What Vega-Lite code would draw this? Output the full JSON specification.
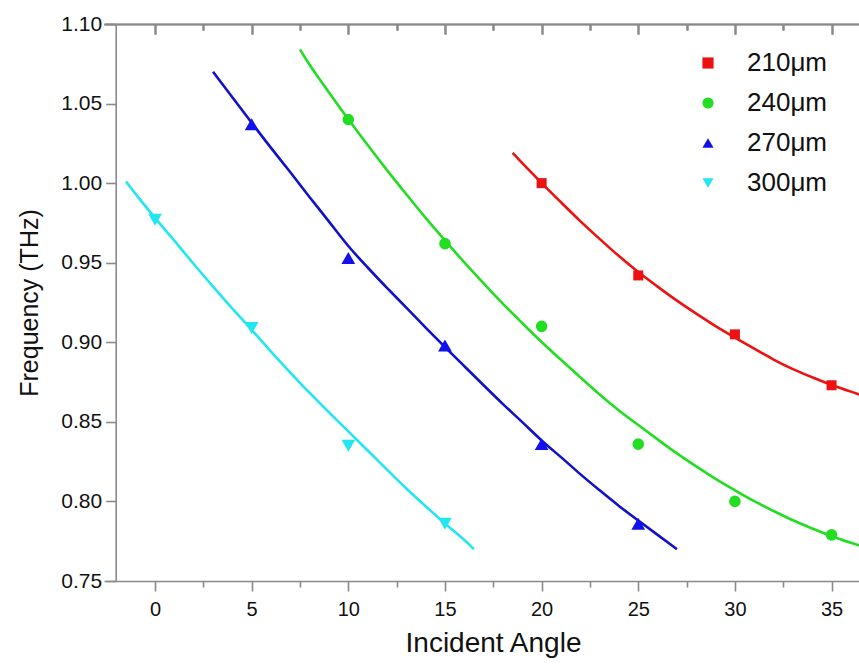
{
  "$schema": "https://vega.github.io/schema/vega-lite/v6.json",
  "autosize": {"type": "none"},
  "width": 755,
  "height": 557,
  "padding": {"left": 104, "top": 24, "right": 0, "bottom": 87},
  "background": "white",
  "config": {
    "view": {"stroke": null},
    "font": "Liberation Sans",
    "axis": {
      "grid": false,
      "domainColor": "#8a8a8a",
      "domainWidth": 1.6,
      "tickColor": "#8a8a8a",
      "tickWidth": 1.6,
      "labelFont": "Liberation Sans",
      "titleFont": "Liberation Sans",
      "labelColor": "#111111",
      "titleColor": "#111111",
      "labelFontSize": 20,
      "titleFontSize": 25,
      "titleFontWeight": "normal",
      "labelOverlap": false,
      "labelFlush": false
    }
  },
  "datasets": {
    "curves": [
      {"series": "210μm", "x": 18.5, "y": 1.019},
      {"series": "210μm", "x": 20, "y": 1.000},
      {"series": "210μm", "x": 21, "y": 0.988},
      {"series": "210μm", "x": 22, "y": 0.976},
      {"series": "210μm", "x": 23, "y": 0.965},
      {"series": "210μm", "x": 24, "y": 0.954},
      {"series": "210μm", "x": 25, "y": 0.944},
      {"series": "210μm", "x": 26, "y": 0.935},
      {"series": "210μm", "x": 27, "y": 0.926},
      {"series": "210μm", "x": 28, "y": 0.918},
      {"series": "210μm", "x": 29, "y": 0.910},
      {"series": "210μm", "x": 30, "y": 0.903},
      {"series": "210μm", "x": 31, "y": 0.896},
      {"series": "210μm", "x": 32, "y": 0.889},
      {"series": "210μm", "x": 33, "y": 0.883},
      {"series": "210μm", "x": 34, "y": 0.878},
      {"series": "210μm", "x": 35, "y": 0.873},
      {"series": "210μm", "x": 36, "y": 0.869},
      {"series": "210μm", "x": 37, "y": 0.865},
      {"series": "240μm", "x": 7.5, "y": 1.084},
      {"series": "240μm", "x": 8, "y": 1.074},
      {"series": "240μm", "x": 9, "y": 1.057},
      {"series": "240μm", "x": 10, "y": 1.040},
      {"series": "240μm", "x": 11, "y": 1.024},
      {"series": "240μm", "x": 12, "y": 1.008},
      {"series": "240μm", "x": 13, "y": 0.993},
      {"series": "240μm", "x": 14, "y": 0.978},
      {"series": "240μm", "x": 15, "y": 0.964},
      {"series": "240μm", "x": 16, "y": 0.950},
      {"series": "240μm", "x": 17, "y": 0.937},
      {"series": "240μm", "x": 18, "y": 0.924},
      {"series": "240μm", "x": 19, "y": 0.912},
      {"series": "240μm", "x": 20, "y": 0.900},
      {"series": "240μm", "x": 21, "y": 0.889},
      {"series": "240μm", "x": 22, "y": 0.878},
      {"series": "240μm", "x": 23, "y": 0.867},
      {"series": "240μm", "x": 24, "y": 0.857},
      {"series": "240μm", "x": 25, "y": 0.848},
      {"series": "240μm", "x": 26, "y": 0.839},
      {"series": "240μm", "x": 27, "y": 0.830},
      {"series": "240μm", "x": 28, "y": 0.822},
      {"series": "240μm", "x": 29, "y": 0.814},
      {"series": "240μm", "x": 30, "y": 0.807},
      {"series": "240μm", "x": 31, "y": 0.800},
      {"series": "240μm", "x": 32, "y": 0.794},
      {"series": "240μm", "x": 33, "y": 0.788},
      {"series": "240μm", "x": 34, "y": 0.783},
      {"series": "240μm", "x": 35, "y": 0.778},
      {"series": "240μm", "x": 36, "y": 0.774},
      {"series": "240μm", "x": 37, "y": 0.770},
      {"series": "270μm", "x": 3, "y": 1.070},
      {"series": "270μm", "x": 4, "y": 1.054},
      {"series": "270μm", "x": 5, "y": 1.038},
      {"series": "270μm", "x": 6, "y": 1.022},
      {"series": "270μm", "x": 7, "y": 1.007},
      {"series": "270μm", "x": 8, "y": 0.991},
      {"series": "270μm", "x": 9, "y": 0.976},
      {"series": "270μm", "x": 10, "y": 0.960},
      {"series": "270μm", "x": 11, "y": 0.947},
      {"series": "270μm", "x": 12, "y": 0.934},
      {"series": "270μm", "x": 13, "y": 0.922},
      {"series": "270μm", "x": 14, "y": 0.909},
      {"series": "270μm", "x": 15, "y": 0.897},
      {"series": "270μm", "x": 16, "y": 0.885},
      {"series": "270μm", "x": 17, "y": 0.873},
      {"series": "270μm", "x": 18, "y": 0.861},
      {"series": "270μm", "x": 19, "y": 0.850},
      {"series": "270μm", "x": 20, "y": 0.838},
      {"series": "270μm", "x": 21, "y": 0.828},
      {"series": "270μm", "x": 22, "y": 0.817},
      {"series": "270μm", "x": 23, "y": 0.807},
      {"series": "270μm", "x": 24, "y": 0.797},
      {"series": "270μm", "x": 25, "y": 0.788},
      {"series": "270μm", "x": 26, "y": 0.779},
      {"series": "270μm", "x": 27, "y": 0.770},
      {"series": "300μm", "x": -1.5, "y": 1.001},
      {"series": "300μm", "x": -1, "y": 0.993},
      {"series": "300μm", "x": 0, "y": 0.978},
      {"series": "300μm", "x": 1, "y": 0.964},
      {"series": "300μm", "x": 2, "y": 0.949},
      {"series": "300μm", "x": 3, "y": 0.935},
      {"series": "300μm", "x": 4, "y": 0.921},
      {"series": "300μm", "x": 5, "y": 0.908},
      {"series": "300μm", "x": 6, "y": 0.894},
      {"series": "300μm", "x": 7, "y": 0.881},
      {"series": "300μm", "x": 8, "y": 0.868},
      {"series": "300μm", "x": 9, "y": 0.856},
      {"series": "300μm", "x": 10, "y": 0.844},
      {"series": "300μm", "x": 11, "y": 0.832},
      {"series": "300μm", "x": 12, "y": 0.820},
      {"series": "300μm", "x": 13, "y": 0.808},
      {"series": "300μm", "x": 14, "y": 0.797},
      {"series": "300μm", "x": 15, "y": 0.786},
      {"series": "300μm", "x": 16, "y": 0.776},
      {"series": "300μm", "x": 16.5, "y": 0.770}
    ],
    "points": [
      {"series": "210μm", "x": 20, "y": 1.000},
      {"series": "210μm", "x": 25, "y": 0.942},
      {"series": "210μm", "x": 30, "y": 0.905},
      {"series": "210μm", "x": 35, "y": 0.873},
      {"series": "240μm", "x": 10, "y": 1.040},
      {"series": "240μm", "x": 15, "y": 0.962},
      {"series": "240μm", "x": 20, "y": 0.910},
      {"series": "240μm", "x": 25, "y": 0.836},
      {"series": "240μm", "x": 30, "y": 0.800},
      {"series": "240μm", "x": 35, "y": 0.779},
      {"series": "270μm", "x": 5, "y": 1.037},
      {"series": "270μm", "x": 10, "y": 0.953},
      {"series": "270μm", "x": 15, "y": 0.898},
      {"series": "270μm", "x": 20, "y": 0.836},
      {"series": "270μm", "x": 25, "y": 0.786},
      {"series": "300μm", "x": 0, "y": 0.977},
      {"series": "300μm", "x": 5, "y": 0.909},
      {"series": "300μm", "x": 10, "y": 0.835},
      {"series": "300μm", "x": 15, "y": 0.786}
    ]
  },
  "layer": [
    {
      "data": {"name": "curves"},
      "transform": [{"filter": "datum.series == '210μm'"}],
      "mark": {"type": "line", "strokeWidth": 2.6, "clip": true, "interpolate": "basis", "color": "#ee1111"},
      "encoding": {
        "x": {
          "field": "x", "type": "quantitative",
          "scale": {"domain": [-2.64, 36.42], "nice": false, "zero": false},
          "axis": {
            "orient": "top", "title": null, "labels": false,
            "values": [0, 2.5, 5, 7.5, 10, 12.5, 15, 17.5, 20, 22.5, 25, 27.5, 30, 32.5, 35],
            "tickSize": {"condition": {"test": "datum.value % 5 == 0", "value": -10}, "value": -6}
          }
        },
        "y": {
          "field": "y", "type": "quantitative",
          "scale": {"domain": [0.75, 1.10], "nice": false, "zero": false}
        }
      }
    },
    {
      "data": {"name": "curves"},
      "transform": [{"filter": "datum.series == '240μm'"}],
      "mark": {"type": "line", "strokeWidth": 2.6, "clip": true, "interpolate": "basis", "color": "#22dd22"},
      "encoding": {
        "x": {"field": "x", "type": "quantitative", "axis": {"orient": "top", "title": null, "labels": false, "values": [0, 2.5, 5, 7.5, 10, 12.5, 15, 17.5, 20, 22.5, 25, 27.5, 30, 32.5, 35], "tickSize": {"condition": {"test": "datum.value % 5 == 0", "value": -10}, "value": -6}}},
        "y": {"field": "y", "type": "quantitative"}
      }
    },
    {
      "data": {"name": "curves"},
      "transform": [{"filter": "datum.series == '270μm'"}],
      "mark": {"type": "line", "strokeWidth": 2.6, "clip": true, "interpolate": "basis", "color": "#1111cc"},
      "encoding": {
        "x": {"field": "x", "type": "quantitative", "axis": {"orient": "top", "title": null, "labels": false, "values": [0, 2.5, 5, 7.5, 10, 12.5, 15, 17.5, 20, 22.5, 25, 27.5, 30, 32.5, 35], "tickSize": {"condition": {"test": "datum.value % 5 == 0", "value": -10}, "value": -6}}},
        "y": {"field": "y", "type": "quantitative"}
      }
    },
    {
      "data": {"name": "curves"},
      "transform": [{"filter": "datum.series == '300μm'"}],
      "mark": {"type": "line", "strokeWidth": 2.6, "clip": true, "interpolate": "basis", "color": "#22e6f2"},
      "encoding": {
        "x": {"field": "x", "type": "quantitative", "axis": {"orient": "top", "title": null, "labels": false, "values": [0, 2.5, 5, 7.5, 10, 12.5, 15, 17.5, 20, 22.5, 25, 27.5, 30, 32.5, 35], "tickSize": {"condition": {"test": "datum.value % 5 == 0", "value": -10}, "value": -6}}},
        "y": {"field": "y", "type": "quantitative"}
      }
    },
    {
      "data": {"name": "points"},
      "mark": {"type": "point", "filled": true, "opacity": 1, "strokeWidth": 0},
      "encoding": {
        "x": {
          "field": "x", "type": "quantitative",
          "axis": {
            "orient": "bottom", "title": "Incident Angle",
            "values": [0, 2.5, 5, 7.5, 10, 12.5, 15, 17.5, 20, 22.5, 25, 27.5, 30, 32.5, 35],
            "labelExpr": "datum.value % 5 == 0 ? datum.label : ''",
            "tickSize": {"condition": {"test": "datum.value % 5 == 0", "value": 10}, "value": 6},
            "labelPadding": 8,
            "titleFontSize": 28,
            "titlePadding": 10,
            "titleX": 389
          }
        },
        "y": {
          "field": "y", "type": "quantitative",
          "axis": {
            "orient": "left", "title": "Frequency (THz)", "offset": -11.7,
            "values": [0.75, 0.775, 0.8, 0.825, 0.85, 0.875, 0.9, 0.925, 0.95, 0.975, 1.0, 1.025, 1.05, 1.075, 1.1],
            "format": ".2f",
            "labelExpr": "round(datum.value * 1000) % 50 == 0 ? datum.label : ''",
            "tickSize": {"condition": {"test": "round(datum.value * 1000) % 50 == 0", "value": 10}, "value": 6},
            "labelFontSize": 21,
            "labelPadding": 4,
            "titlePadding": 18
          }
        },
        "size": {
          "condition": [
            {"test": "datum.series == '270μm' || datum.series == '300μm'", "value": 190},
            {"test": "datum.series == '240μm'", "value": 135}
          ],
          "value": 100
        },
        "color": {
          "field": "series", "type": "nominal",
          "scale": {"domain": ["210μm", "240μm", "270μm", "300μm"], "range": ["#ee1111", "#22dd22", "#1111ee", "#22e6f2"]},
          "legend": {
            "title": null, "orient": "none", "legendX": 591, "legendY": 26,
            "labelFontSize": 26, "labelFont": "Liberation Sans", "labelColor": "#111111",
            "labelOffset": 26, "rowPadding": 14, "padding": 0, "symbolStrokeWidth": 0, "symbolSize": 125
          }
        },
        "shape": {
          "field": "series", "type": "nominal",
          "scale": {"domain": ["210μm", "240μm", "270μm", "300μm"], "range": ["square", "circle", "triangle-up", "triangle-down"]},
          "legend": {
            "title": null, "orient": "none", "legendX": 591, "legendY": 26,
            "labelFontSize": 26, "labelFont": "Liberation Sans", "labelColor": "#111111",
            "labelOffset": 26, "rowPadding": 14, "padding": 0, "symbolStrokeWidth": 0, "symbolSize": 125
          }
        }
      }
    }
  ]
}
